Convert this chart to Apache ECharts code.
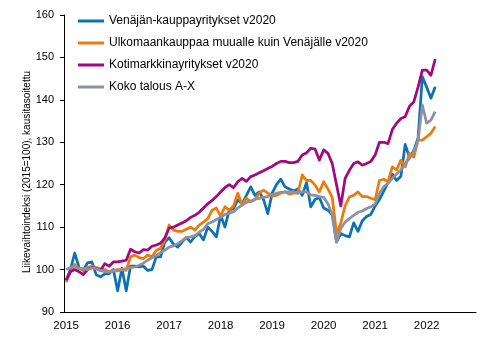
<!DOCTYPE html>
<html><head><meta charset="utf-8">
<script src="https://cdn.jsdelivr.net/npm/echarts@6/dist/echarts.min.js"></script>
<style>html,body{margin:0;padding:0;background:#fff}#c{width:491px;height:340px}</style>
</head><body><div id="c"></div>
<script>
// Tick labels (years) and months that make up the category axis
const years = ['2015','2016','2017','2018','2019','2020','2021','2022'];
const months = ['01','02','03','04','05','06','07','08','09','10','11','12'];
const categories = [];
years.forEach(y => months.forEach(m => categories.push(y + '-' + m)));

const seriesNames = [
  'Venäjän-kauppayritykset v2020',
  'Ulkomaankauppaa muualle kuin Venäjälle v2020',
  'Kotimarkkinayritykset v2020',
  'Koko talous A-X'
];
const yAxisTitle = 'Liikevaihtoindeksi (2015=100), kausitasoitettu';

// Monthly values 2015-01 .. 2022-03
const venaja = [
  97.5, 100, 103.9, 100.5, 99.8, 101.6, 101.8, 98.8, 98.3, 99, 99, 100,
  95, 100.3, 95, 100.8, 100.8, 100.6, 100.8, 99.8, 100, 103, 103, 106.5,
  107.5, 106, 105.3, 106.5, 107.6, 106.5, 107.8, 108.5, 107, 110, 109, 107.7,
  112.8, 110, 114, 114.4, 116.4, 115.5, 117.5, 119.5, 117.5, 118.3, 116.5, 113.2,
  118, 120, 121.3, 119.5, 119, 118.5, 119, 117.5, 120.5, 114.8, 116.5, 117,
  114.5, 114, 113, 106.5, 108.5, 108, 107.7, 111, 109, 111.5, 112.5, 113,
  115, 116.5, 118.5, 120.5, 122.5, 121, 122, 129.5, 126.5, 128, 131, 145.5,
  143, 140.4, 143.1
];
const ulkomaa = [
  97, 99.5, 101.2, 100.2, 100, 100.5, 100.8, 100.5, 100.2, 100, 99.5, 99.8,
  100, 100, 99.8, 103, 103.4, 102.8, 102.6, 103.4, 103, 104.5, 105, 107,
  110.5, 109.3, 109, 109, 109.5, 110, 109.3, 110.5, 111.2, 112, 114, 114.5,
  112.6, 114.8, 114, 115, 118, 115.2, 116.8, 116, 116.5, 118, 118.7, 118,
  117.3, 117.5, 118, 118.3, 117.8, 118, 118, 122.3, 121, 121, 119.9, 118.3,
  120.7, 119, 117, 108.5, 111, 115, 117.1, 117.5, 118.3, 117.2, 117.2, 116.8,
  116.5, 121, 121.3, 120.7, 124.2, 123.5, 125.8, 124.2, 127.4, 126.5, 130.5, 130.5,
  131.3, 132.1, 133.7
];
const kotimarkkina = [
  97.5, 99.5, 100, 99.5, 98.8, 100, 100.5, 100.3, 99.8, 101.4, 100.8, 101.8,
  101.8, 102, 102.2, 104.8, 104.2, 103.9, 104.7, 104.6, 105.5, 105.8, 106.2, 107.5,
  109.8, 110, 110.5, 111, 111.5, 112.3, 112.8, 113.5, 114.5, 115.5, 116.3, 117.2,
  118.3, 119.3, 120, 119.3, 120.7, 121.5, 120.8, 121.9, 122.3, 122.8, 123.3, 123.8,
  124.3, 125, 125.5, 125.5, 125.2, 125.2, 125.5, 127, 127.5, 128.6, 128.4, 125.8,
  128.2, 127.4, 125, 120, 115, 121.5, 123.4, 125, 125.4, 124.6, 125, 125.5,
  127, 130, 130, 129.7, 133, 134.5, 135.6, 136, 138.5, 139.5, 143, 147,
  147, 145.8, 149.6
];
const kokoTalous = [
  100, 100.5, 100.8, 100.3, 100.2, 100, 100.4, 100.2, 99.8, 99.5, 99.4, 99.7,
  99.7, 100, 100.2, 100.5, 100.6, 101, 101.5, 102.2, 102.8, 103.3, 104, 104.6,
  105.3, 105.6, 106.1, 106.8, 107.6, 107.7, 108, 108.8, 109.5, 110.8, 111.2, 111.8,
  112.3, 113, 113.3, 113.6, 114.5, 115.2, 115.8, 116.1, 116.6, 116.8, 117, 117.2,
  117.7, 118, 118.2, 118.3, 118.3, 118.3, 118, 118.3, 118.3, 117.6, 117.5, 117.2,
  117, 115.5, 113, 106.5, 109.7, 111.2, 112, 112.8, 113.5, 113.8, 114.4, 114.8,
  115.5, 117.9, 119.5, 120.3, 121.5, 122.5, 123.5, 125, 126.2, 127.8, 130.3, 138.8,
  134.5, 135.2, 137.2
];
const seriesData = [venaja, ulkomaa, kotimarkkina, kokoTalous];
const colors = ['#0C72B2', '#EE7A0A', '#A3087F', '#8E90A3'];

const font = '"Liberation Sans", Arial, sans-serif';
const chart = echarts.init(document.getElementById('c'), null, {renderer: 'canvas'});
chart.setOption({
  animation: false,
  color: colors,
  grid: {left: 64, right: 15, top: 15, bottom: 28, containLabel: false},
  legend: {
    orient: 'vertical', left: 78, top: 14, padding: 0,
    itemWidth: 26, itemHeight: 3, itemGap: 8, icon: 'rect',
    textStyle: {fontSize: 12, fontFamily: font, color: '#000', lineHeight: 14},
    data: seriesNames
  },
  graphic: [{
    type: 'text', x: 27, y: 172, rotation: Math.PI / 2, silent: true,
    style: {text: yAxisTitle, fontSize: 10, fontFamily: font, fill: '#000',
            align: 'center', verticalAlign: 'middle'}
  }],
  xAxis: {
    type: 'category', data: categories, boundaryGap: true,
    axisLine: {lineStyle: {color: '#000', width: 1}},
    axisTick: {interval: 11, length: 4, lineStyle: {color: '#000'}},
    axisLabel: {interval: 11, formatter: v => v.slice(0, 4), fontSize: 11.5, color: '#000', fontFamily: font, margin: 8},
    splitLine: {show: false}
  },
  yAxis: {
    type: 'value', min: 90, max: 160, interval: 10,
    axisLine: {show: true, lineStyle: {color: '#000', width: 1}},
    axisTick: {show: true, length: 4, lineStyle: {color: '#000'}},
    axisLabel: {fontSize: 11, color: '#000', fontFamily: font, margin: 10},
    splitLine: {show: false}
  },
  series: seriesNames.map((n, k) => ({
    name: n, type: 'line', data: seriesData[k], symbol: 'none', smooth: false,
    lineStyle: {width: 2.75, join: 'round', color: colors[k]}
  }))
});
</script></body></html>
